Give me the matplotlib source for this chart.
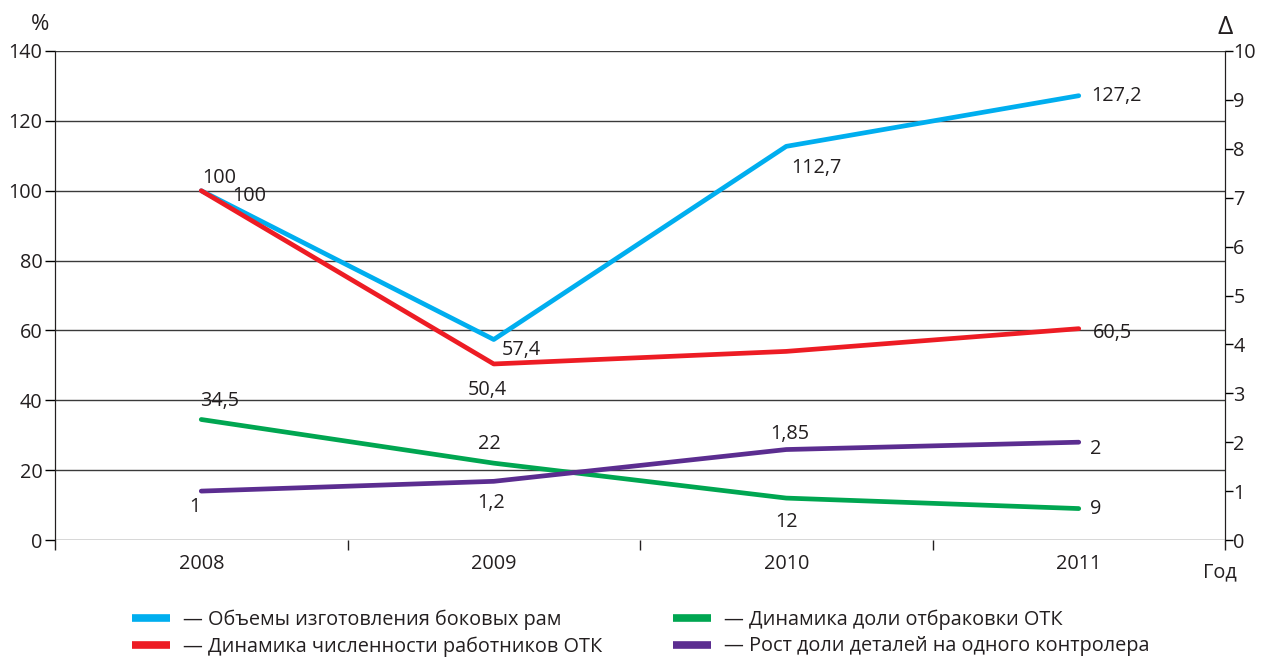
import matplotlib
matplotlib.use("Agg")
import matplotlib.pyplot as plt
from matplotlib.lines import Line2D

plt.rcParams['font.family'] = ['Open Sans', 'DejaVu Sans']

years = ['2008', '2009', '2010', '2011']
volume = [100, 57.4, 112.7, 127.2]          # left axis, %
staff = [100, 50.4, 54, 60.5]               # left axis, %
reject = [34.5, 22, 12, 9]                  # left axis, %
parts_per_ctrl = [1, 1.2, 1.85, 2]          # right axis, Δ

volume_labels = ['100', '57,4', '112,7', '127,2']
staff_labels = ['100', '50,4', None, '60,5']
reject_labels = ['34,5', '22', '12', '9']
parts_labels = ['1', '1,2', '1,85', '2']

legend_labels = ['— Объемы изготовления боковых рам',
                 '— Динамика численности работников ОТК',
                 '— Динамика доли отбраковки ОТК',
                 '— Рост доли деталей на одного контролера']

c_blue = '#00AEEF'
c_red = '#ED1C24'
c_green = '#00A651'
c_purple = '#5B2D90'
txt = '#231F20'

fig = plt.figure(figsize=(12.64, 6.57), dpi=100)
ax = fig.add_axes([55/1264, 1-540/657, (1225-55)/1264, (540-51)/657])
ax2 = ax.twinx()

x = list(range(len(years)))
lw = 3.4
ax.plot(x, volume, color=c_blue, lw=lw, solid_capstyle='round', zorder=3)
ax.plot(x, staff, color=c_red, lw=lw, solid_capstyle='round', zorder=4)
ax.plot(x, reject, color=c_green, lw=lw, solid_capstyle='round', zorder=3)
ax2.plot(x, parts_per_ctrl, color=c_purple, lw=lw, solid_capstyle='round', zorder=3)

ax.set_xlim(-0.5, 3.5)
ax.set_ylim(0, 140)
ax2.set_ylim(0, 10)

fs = 14.3
ax.set_yticks(range(0, 141, 20))
ax2.set_yticks(range(0, 11, 1))
ax.set_xticks(x)
ax.set_xticklabels(years)
ax.set_xticks([-0.5, 0.5, 1.5, 2.5, 3.5], minor=True)
ax.tick_params(axis='x', which='major', length=0, pad=10, labelsize=fs, labelcolor=txt)
ax.tick_params(axis='x', which='minor', length=7, width=1, color='#231F20')
ax.tick_params(axis='y', length=7, width=1, labelsize=fs, labelcolor=txt, pad=2)
ax2.tick_params(axis='y', length=6, width=1, labelsize=fs, labelcolor=txt, pad=0)

for yv in range(0, 141, 20):
    ax.axhline(yv, color='#3a3a3a', lw=1.0, zorder=1)

for a in (ax, ax2):
    a.spines['top'].set_visible(False)
    a.spines['bottom'].set_visible(False)
    a.spines['left'].set_color('#231F20')
    a.spines['right'].set_color('#231F20')

def lab(axis, xi, yi, s, dx, dy, ha='center', va='center'):
    if s is None:
        return
    axis.annotate(s, (xi, yi), xytext=(dx, dy), textcoords='offset pixels',
                  ha=ha, va=va, fontsize=fs, color=txt, zorder=6)

# blue
lab(ax, 0, volume[0], volume_labels[0], 48, -5)
lab(ax, 1, volume[1], volume_labels[1], 28, -10)
lab(ax, 2, volume[2], volume_labels[2], 30, -22)
lab(ax, 3, volume[3], volume_labels[3], 38, 0)
# red
lab(ax, 0, staff[0], staff_labels[0], 18, 13)
lab(ax, 1, staff[1], staff_labels[1], -6, -26)
lab(ax, 3, staff[3], staff_labels[3], 34, -4)
# green
lab(ax, 0, reject[0], reject_labels[0], 18, 18)
lab(ax, 1, reject[1], reject_labels[1], -4, 19)
lab(ax, 2, reject[2], reject_labels[2], 0, -24)
lab(ax, 3, reject[3], reject_labels[3], 17, 0)
# purple
lab(ax2, 0, parts_per_ctrl[0], parts_labels[0], -6, -16)
lab(ax2, 1, parts_per_ctrl[1], parts_labels[1], -3, -22)
lab(ax2, 2, parts_per_ctrl[2], parts_labels[2], 4, 16)
lab(ax2, 3, parts_per_ctrl[3], parts_labels[3], 17, -7)

fig.text(40/1264, 1-24/657, '%', fontsize=16, color=txt, ha='center', va='center')
fig.text(1225/1264, 1-28/657, 'Δ', fontsize=19, color=txt, ha='center', va='center')
fig.text(1220/1264, 1-572/657, 'Год', fontsize=fs, color=txt, ha='center', va='center')

handles = [Line2D([], [], color=c, lw=5.5, solid_capstyle='butt')
           for c in (c_blue, c_red, c_green, c_purple)]
leg = fig.legend(handles, legend_labels, ncol=2, loc='center left',
                 bbox_to_anchor=(132/1264, 1-633/657), frameon=False,
                 fontsize=fs, handlelength=1.9, handletextpad=0.65,
                 columnspacing=3.6, labelspacing=0.35, labelcolor=txt,
                 borderaxespad=0, borderpad=0)

fig.savefig('out.png', dpi=100)
